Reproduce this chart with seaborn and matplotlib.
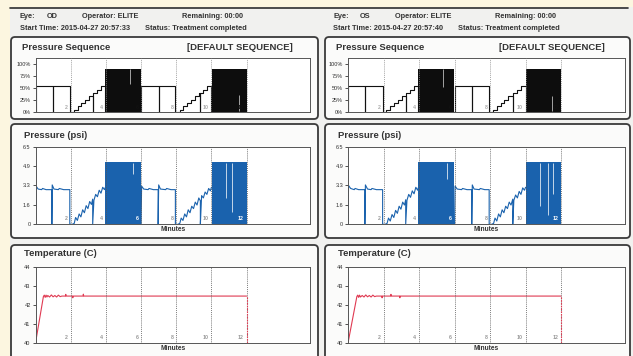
import numpy as np
import pandas as pd
import matplotlib
matplotlib.use("Agg")
import matplotlib.pyplot as plt
import seaborn as sns
from matplotlib.patches import FancyBboxPatch, Rectangle

sns.set_theme(style="white")
plt.rcParams['font.family'] = ['Liberation Sans', 'DejaVu Sans']

# ---- data ----
marker_min = [2, 4, 6, 8, 10, 12]
marker_lbl = ["2", "4", "6", "8", "10", "12"]

seq_ticks = [0, 25, 50, 75, 100]
seq_ticklbl = ["0%", "25%", "50%", "75%", "100%"]
psi_ticks = [0, 1.625, 3.25, 4.875, 6.5]
psi_ticklbl = ["0", "1.6", "3.3", "4.9", "6.5"]
temp_ticks = [40, 41, 42, 43, 44]
temp_ticklbl = ["40", "41", "42", "43", "44"]

# pressure sequence (% , step outline)
od_seq_t = [0, 0, 1.0, 1.0, 1.97, 2.17, 2.39, 2.61, 2.83, 3.05, 3.25, 3.25, 3.27, 3.49, 3.71, 3.97,
            6.0, 7.0, 7.0, 7.95, 8.19, 8.41, 8.63, 8.85, 9.07, 9.3, 9.37, 9.37, 9.52, 9.74, 10.0, 12.0]
od_seq_v = [0, 55, 0, 55, 0, 5, 12, 19, 26, 33, 0, 40, 40, 47, 55, 0,
            55, 0, 55, 0, 5, 12, 19, 26, 33, 40, 0, 40, 47, 55, 0, 0]
os_seq_t = [0, 0, 0.95, 0.95, 1.97, 2.15, 2.37, 2.59, 2.81, 3.03, 3.25, 3.25, 3.27, 3.49, 3.71, 3.97,
            6.0, 6.97, 6.97, 7.95, 8.15, 8.37, 8.59, 8.81, 9.03, 9.28, 9.28, 9.3, 9.52, 9.74, 10.0, 12.0]
os_seq_v = [0, 55, 0, 55, 0, 5, 12, 19, 26, 33, 0, 40, 40, 47, 55, 0,
            55, 0, 55, 0, 5, 12, 19, 26, 33, 0, 40, 40, 47, 55, 0, 0]
seq_block_start = [3.97, 10.03]
seq_block_end = [5.97, 12.0]
seq_block_level = 90
od_seq_gap_t, od_seq_gap_lo, od_seq_gap_hi = [5.35, 11.56], [58, 2], [89, 35]
os_seq_gap_t, os_seq_gap_lo, os_seq_gap_hi = [5.34, 11.48], [52, 2], [89, 33]

# pressure (psi)
od_psi_t = [0, 0.03, 0.15, 0.35, 0.4, 0.6, 0.93, 0.93, 0.95, 1.05, 1.3, 1.35, 1.6, 1.95, 1.95,
            2.05, 2.2, 2.28, 2.38, 2.48, 2.58, 2.68, 2.78, 2.88, 2.98, 3.08, 3.18, 3.25, 3.25,
            3.32, 3.42, 3.52, 3.62, 3.72, 3.82, 3.92, 3.97,
            6.0, 6.03, 6.15, 6.4, 6.45, 6.7, 6.97, 6.97, 7.0, 7.1, 7.4, 7.45, 7.7, 7.95, 7.95,
            8.05, 8.2, 8.28, 8.38, 8.48, 8.58, 8.68, 8.78, 8.88, 8.98, 9.08, 9.18, 9.28, 9.37, 9.37,
            9.44, 9.54, 9.64, 9.74, 9.84, 9.94, 10.0]
od_psi_v = [0, 3.2, 2.95, 2.9, 3.0, 2.9, 2.9, 0, 3.3, 2.95, 2.9, 3.0, 2.9, 2.9, 0,
            -0.05, 0.05, 0.55, 0.3, 0.85, 0.6, 1.2, 0.95, 1.55, 1.3, 1.9, 1.65, 2.1, 0,
            2.0, 2.5, 2.3, 2.85, 2.6, 3.1, 2.9, 3.1,
            0, 3.2, 2.95, 2.9, 3.0, 2.9, 2.9, 0, 3.3, 2.95, 2.9, 3.0, 2.9, 2.9, 0,
            -0.05, 0.05, 0.5, 0.3, 0.85, 0.6, 1.2, 0.95, 1.5, 1.3, 1.85, 1.6, 2.2, 1.95, 0,
            2.4, 2.2, 2.7, 2.5, 3.0, 2.8, 3.1]
os_psi_t = [0, 0.03, 0.15, 0.35, 0.4, 0.6, 0.95, 0.95, 0.98, 1.1, 1.3, 1.35, 1.6, 1.95, 1.95,
            2.05, 2.2, 2.28, 2.38, 2.48, 2.58, 2.68, 2.78, 2.88, 2.98, 3.08, 3.18, 3.25, 3.25,
            3.32, 3.42, 3.52, 3.62, 3.72, 3.82, 3.92, 3.97,
            6.0, 6.03, 6.15, 6.4, 6.45, 6.7, 6.97, 6.97, 7.0, 7.1, 7.4, 7.45, 7.7, 7.95, 7.95,
            8.05, 8.2, 8.28, 8.38, 8.48, 8.58, 8.68, 8.78, 8.88, 8.98, 9.08, 9.18, 9.28, 9.28,
            9.34, 9.44, 9.54, 9.64, 9.74, 9.84, 9.94, 10.0]
os_psi_v = [0, 3.25, 3.0, 2.9, 3.0, 2.9, 2.9, 0, 3.3, 2.95, 2.9, 3.0, 2.9, 2.9, 0,
            -0.05, 0.05, 0.5, 0.25, 0.8, 0.55, 1.15, 0.9, 1.5, 1.25, 1.85, 1.6, 2.05, 0,
            2.0, 2.5, 2.25, 2.8, 2.55, 3.1, 2.85, 3.1,
            0, 3.2, 2.95, 2.9, 3.0, 2.9, 2.9, 0, 3.3, 2.95, 2.9, 3.0, 2.9, 2.9, 0,
            -0.05, 0.05, 0.5, 0.25, 0.85, 0.6, 1.2, 0.95, 1.5, 1.3, 1.85, 1.6, 2.1, 0,
            2.0, 2.45, 2.2, 2.75, 2.5, 3.05, 2.85, 3.1]
psi_block_start = [3.97, 10.03]
psi_block_end = [5.97, 12.0]
psi_block_level = 5.2
od_psi_gap_t, od_psi_gap_lo, od_psi_gap_hi = [5.52, 10.84, 11.15], [4.2, 2.2, 1.0], [5.15, 5.15, 5.15]
os_psi_gap_t, os_psi_gap_lo, os_psi_gap_hi = [5.55, 10.8, 11.27, 11.55], [3.8, 1.5, 0.8, 2.5], [5.15, 5.15, 5.15, 5.15]

# temperature (C)
od_temp_t = [0, 0.45, 0.5, 0.55, 0.6, 0.65, 0.7, 0.8, 0.9, 1.0, 1.1, 1.2, 1.3, 1.4, 1.5,
             1.7, 1.72, 1.74, 2.1, 2.12, 2.14, 2.7, 2.72, 2.74, 3.0, 12.0]
od_temp_v = [40, 42.45, 42.52, 42.4, 42.52, 42.42, 42.5, 42.42, 42.53, 42.43, 42.5, 42.42, 42.52,
             42.44, 42.47, 42.47, 42.56, 42.47, 42.47, 42.38, 42.47, 42.47, 42.57, 42.47, 42.47, 42.47]
os_temp_t = [0, 0.5, 0.55, 0.6, 0.65, 0.7, 0.8, 0.9, 1.0, 1.1, 1.2, 1.3, 1.4, 1.5, 1.6,
             1.9, 1.92, 1.94, 2.4, 2.42, 2.44, 2.9, 2.92, 2.94, 3.2, 12.0]
os_temp_v = [40, 42.45, 42.52, 42.4, 42.52, 42.42, 42.5, 42.42, 42.53, 42.43, 42.5, 42.42, 42.52,
             42.44, 42.47, 42.47, 42.38, 42.47, 42.47, 42.56, 42.47, 42.47, 42.38, 42.47, 42.47, 42.47]

eyes = {
    "OD": dict(start="2015-04-27 20:57:33", seq=(od_seq_t, od_seq_v),
               seq_gap=(od_seq_gap_t, od_seq_gap_lo, od_seq_gap_hi), psi=(od_psi_t, od_psi_v),
               psi_gap=(od_psi_gap_t, od_psi_gap_lo, od_psi_gap_hi), temp=(od_temp_t, od_temp_v)),
    "OS": dict(start="2015-04-27 20:57:40", seq=(os_seq_t, os_seq_v),
               seq_gap=(os_seq_gap_t, os_seq_gap_lo, os_seq_gap_hi), psi=(os_psi_t, os_psi_v),
               psi_gap=(os_psi_gap_t, os_psi_gap_lo, os_psi_gap_hi), temp=(os_temp_t, os_temp_v)),
}

# ---- layout (pixels) ----
W, H = 633, 356
BLUE = "#1a62ad"
RED = "#e03a52"
TXT = "#333333"

fig = plt.figure(figsize=(W / 100, H / 100), dpi=100)
fig.patch.set_facecolor("#f1f1ef")
bg = fig.add_axes([0, 0, 1, 1])
bg.set_xlim(0, W)
bg.set_ylim(H, 0)
bg.axis("off")
bg.add_patch(Rectangle((0, 0), W, 7, color="#fcf6e0", lw=0))
bg.add_patch(Rectangle((0, 0), 10, H, color="#fcf6e0", lw=0))
bg.plot([10, 628], [8, 8], color="#2e2e2e", lw=1.2)


def rect(x0, y0, x1, y1):
    return [x0 / W, 1 - y1 / H, (x1 - x0) / W, (y1 - y0) / H]


def panel(x0, y0, x1, y1):
    bg.add_patch(FancyBboxPatch((x0, y0), x1 - x0, y1 - y0,
                                boxstyle="round,pad=0,rounding_size=4",
                                fc="#fbfbfa", ec="#3a3a3a", lw=1.3))


def line(ax, t, v, color, steps=False):
    df = pd.DataFrame({"t": t, "v": v})
    sns.lineplot(data=df, x="t", y="v", ax=ax, color=color, lw=0.8, sort=False,
                 estimator=None, drawstyle="steps-post" if steps else "default")


def style_ax(ax, ylim, ticks, labels, xlabel=True):
    ax.set_xlim(0, 15.6)
    ax.set_ylim(*ylim)
    ax.set_xticks([])
    ax.set_yticks(ticks)
    ax.set_yticklabels(labels)
    ax.tick_params(axis="y", length=2.5, width=0.6, pad=1, labelsize=4, colors=TXT, left=True)
    ax.set_ylabel("")
    ax.set_xlabel("Minutes" if xlabel else "", fontsize=4.8, fontweight="bold", color=TXT, labelpad=1.5)
    ax.set_facecolor("white")
    for s in ax.spines.values():
        s.set_color("#555555")
        s.set_linewidth(0.7)


def markers(ax, ymax, color, label_colors, frac=0.04):
    ax.vlines(marker_min, 0, 1, transform=ax.get_xaxis_transform(), color=color,
              lw=0.6, linestyles=(0, (1, 1.3)), zorder=4)
    for m, lbl, c in zip(marker_min, marker_lbl, label_colors):
        ax.text(m - 0.15, frac, lbl, transform=ax.get_xaxis_transform(), ha="right", va="bottom",
                fontsize=3.8, color=c, fontweight="bold", zorder=5)


cols = [("OD", 11, 318, 35.5, 310, 20), ("OS", 325, 630, 348, 625, 333)]
for eye, px0, px1, ax0, ax1, tx in cols:
    d = eyes[eye]
    # header
    bg.text(tx, 17, "Eye:", fontsize=5.3, fontweight="bold", color=TXT, va="center")
    bg.text(tx + 27, 17, eye, fontsize=5.3, fontweight="bold", color=TXT, va="center")
    bg.text(tx + 62, 17, "Operator: ELITE", fontsize=5.3, fontweight="bold", color=TXT, va="center")
    bg.text(tx + 162, 17, "Remaining: 00:00", fontsize=5.3, fontweight="bold", color=TXT, va="center")
    bg.text(tx, 28, "Start Time: " + d["start"], fontsize=5.3, fontweight="bold", color=TXT, va="center")
    bg.text(tx + 125, 28, "Status: Treatment completed", fontsize=5.3, fontweight="bold", color=TXT, va="center")

    # panels
    panel(px0, 37, px1, 119)
    panel(px0, 124, px1, 238)
    panel(px0, 245, px1, 372)
    bg.text(px0 + 11, 47, "Pressure Sequence", fontsize=6.8, fontweight="bold", color=TXT, va="center")
    bg.text(px1 - 25, 47, "[DEFAULT SEQUENCE]", fontsize=6.8, fontweight="bold", color=TXT,
            va="center", ha="right")
    bg.text(px0 + 13, 135, "Pressure (psi)", fontsize=6.8, fontweight="bold", color=TXT, va="center")
    bg.text(px0 + 13, 254, "Temperature (C)", fontsize=6.8, fontweight="bold", color=TXT, va="center")

    # pressure sequence
    ax = fig.add_axes(rect(ax0, 58, ax1, 112))
    markers(ax, 113, "#8a8a8a", ["#aaaaaa", "#aaaaaa", "#111111", "#aaaaaa", "#aaaaaa", "#111111"])
    t, v = d["seq"]
    line(ax, t, v, "#111111", steps=True)
    for s, e in zip(seq_block_start, seq_block_end):
        ax.fill_between([s, e], 0, seq_block_level, color="#0d0d0d", lw=0, zorder=3)
    gt, glo, ghi = d["seq_gap"]
    ax.vlines(gt, glo, ghi, color="#bbbbbb", lw=0.6, zorder=4)
    style_ax(ax, (0, 113), seq_ticks, seq_ticklbl, xlabel=False)

    # pressure psi
    ax = fig.add_axes(rect(ax0, 147, ax1, 224))
    markers(ax, 6.5, "#555555", ["#999999", "#999999", "white", "#999999", "#999999", "white"])
    t, v = d["psi"]
    line(ax, t, v, BLUE)
    for s, e in zip(psi_block_start, psi_block_end):
        ax.fill_between([s, e], 0, psi_block_level, color=BLUE, lw=0, zorder=3)
    gt, glo, ghi = d["psi_gap"]
    ax.vlines(gt, glo, ghi, color="#dfe8f2", lw=0.6, zorder=4)
    style_ax(ax, (0, 6.5), psi_ticks, psi_ticklbl)

    # temperature
    ax = fig.add_axes(rect(ax0, 267, ax1, 343))
    markers(ax, 44, "#555555", ["#999999"] * 6)
    t, v = d["temp"]
    line(ax, t, v, RED)
    ax.vlines(t[-1], 40, v[-1], color=RED, lw=0.8, linestyles=(0, (1.5, 1)), zorder=5)
    style_ax(ax, (40, 44), temp_ticks, temp_ticklbl)

fig.savefig("out.png", dpi=100, facecolor=fig.get_facecolor())
